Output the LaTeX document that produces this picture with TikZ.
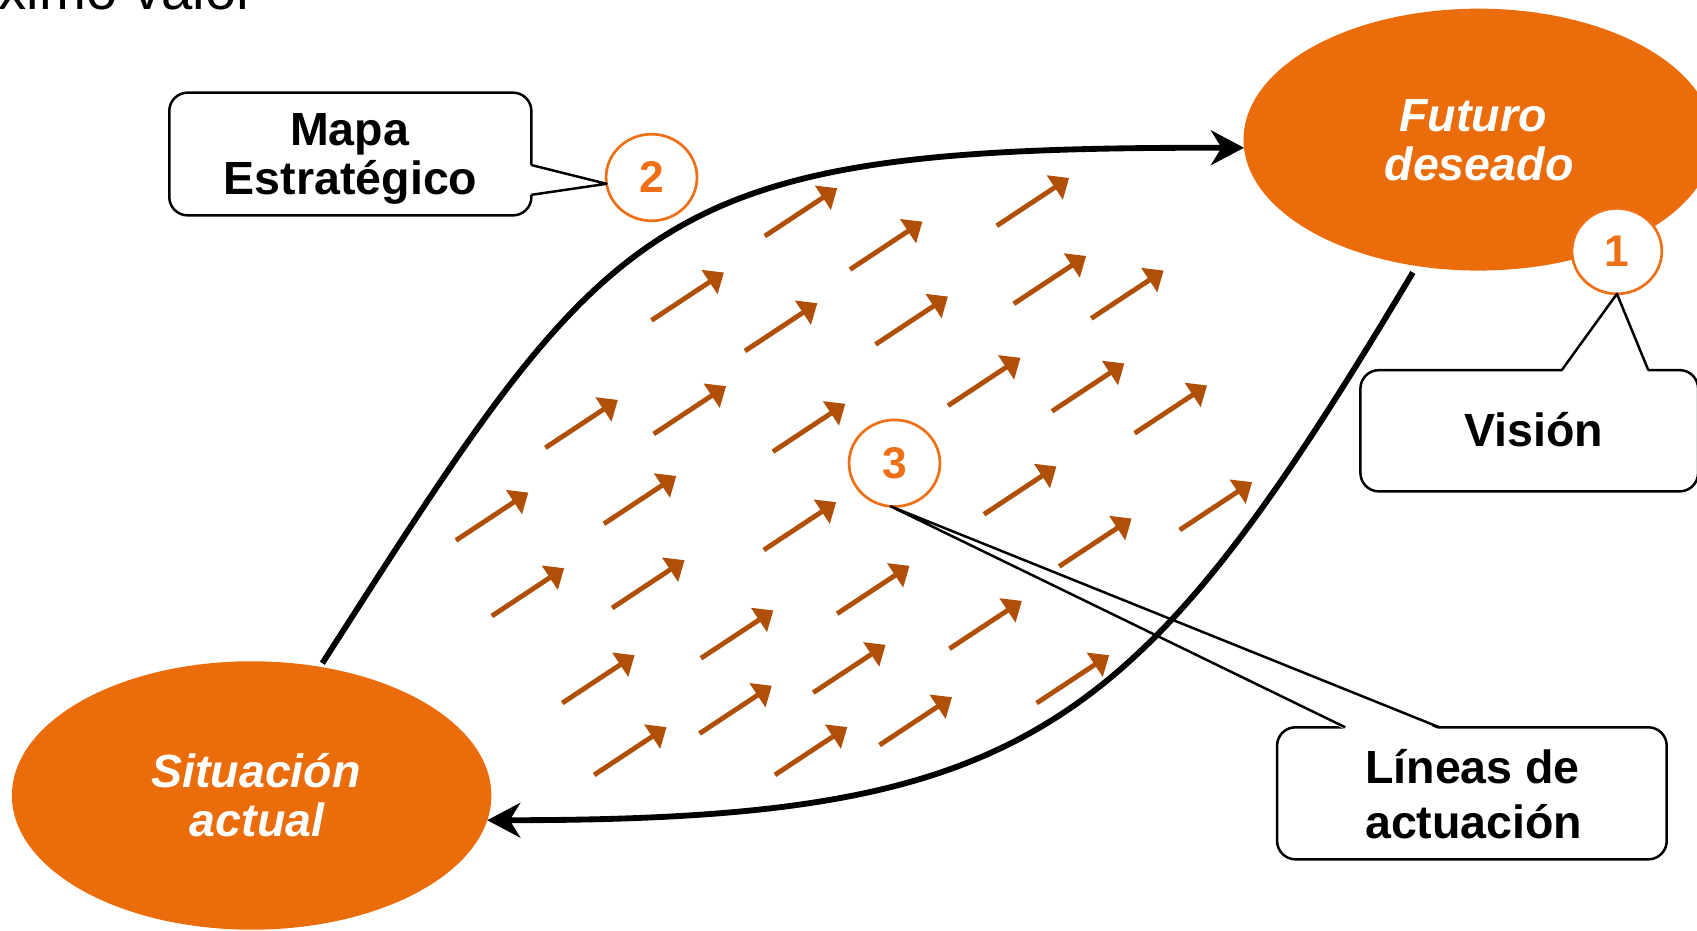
\documentclass[tikz,border=0pt]{standalone}
\usepackage{fontspec}
\setmainfont{Liberation Sans}
\usetikzlibrary{arrows.meta,shapes.geometric,calc}
\definecolor{ellor}{RGB}{235,108,11}
\definecolor{arrbr}{RGB}{176,80,8}
\definecolor{numor}{RGB}{238,112,22}
\tikzset{
  bigell/.style={ellipse, fill=ellor, draw=none, inner sep=0pt, outer sep=0pt},
  elltext/.style={text=white, font=\fontsize{43}{45}\selectfont\bfseries\itshape, inner sep=0pt, anchor=base},
  numcirc/.style={ellipse, draw=numor, line width=2.5pt, fill=white, minimum width=84pt, minimum height=80pt, inner sep=0pt, outer sep=0pt, text=numor, font=\fontsize{41}{41}\selectfont\bfseries},
  callbox/.style={rectangle, rounded corners=17pt, draw=black, line width=2.3pt, fill=white, inner sep=0pt, outer sep=0pt},
  boxtext/.style={font=\fontsize{43}{45}\selectfont\bfseries, inner sep=0pt, anchor=base},
  bigcurve/.style={line width=5.4pt, -{Stealth[length=30.5pt, width=32pt, inset=9.7pt]}},
  orarrow/.style={draw=arrbr, fill=arrbr, line width=4.5pt, -{Triangle[length=16pt, width=26pt]}},
  pointer/.style={line width=2.3pt, line join=round},
}
\begin{document}
\begin{tikzpicture}[x=1pt,y=-1pt]
\useasboundingbox (0,0) rectangle (1568,860);

% title fragment
\node[anchor=base east, inner sep=0pt, font=\fontsize{52}{52}\selectfont] (title) at (236,8.6) {ximo valor};

% big ellipses
\node[bigell, minimum width=434pt, minimum height=242pt] (fut) at (1366,129) {};
\node[elltext] (futa) at (1361,121.7) {Futuro};
\node[elltext] (futb) at (1366.6,167) {deseado};
\node[bigell, minimum width=443pt, minimum height=248pt] (sit) at (232.5,735) {};
\node[elltext] (sita) at (236.5,728) {Situación};
\node[elltext] (sitb) at (237.6,773) {actual};

% callout boxes
\node[callbox, minimum width=334.6pt, minimum height=113.4pt] (mapa) at (323.7,142.3) {};
\node[boxtext] (mapaa) at (323,134) {Mapa};
\node[boxtext] (mapab) at (324,180) {Estratégico};
\node[callbox, minimum width=312pt, minimum height=112pt] (vis) at (1413,398) {};
\node[boxtext] (visa) at (1417,412.7) {Visión};
\node[callbox, minimum width=360pt, minimum height=122pt] (lin) at (1360,733) {};
\node[boxtext] (lina) at (1360.6,723.6) {Líneas de};
\node[boxtext] (linb) at (1361.7,774.5) {actuación};

% number circles
\node[numcirc, minimum width=83pt, minimum height=79pt] (c1) at (1494,232) {1};
\node[numcirc] (c2) at (602,164) {2};
\node[numcirc] (c3) at (826.5,428) {3};

% pointer base points on the boxes
\coordinate (mp1) at (491,152.5);
\coordinate (mp2) at (491,180);
\coordinate (vp1) at (1443,342);
\coordinate (vp2) at (1523,342);
\coordinate (lp1) at (1243,672);
\coordinate (lp2) at (1330,672);

% pointers
\fill[white] ($(mp1)+(-2,0)$) -- (c2.188) -- ($(mp2)+(-2,0)$) -- cycle;
\draw[pointer] (mp1) -- (c2.188) -- (mp2);
\fill[white] ($(vp1)+(0,2)$) -- (c1.south) -- ($(vp2)+(0,2)$) -- cycle;
\draw[pointer] (vp1) -- (c1.south) -- (vp2);
\fill[white] ($(lp1)+(0,2)$) -- (c3.265) -- ($(lp2)+(0,2)$) -- cycle;
\draw[pointer] (lp1) -- (c3.265) -- (lp2);

% big curves
\draw[bigcurve, shorten <=4pt] (sit.62) .. controls (568,191.5) and (599.5,135.5) .. (fut.182);
\draw[bigcurve, shorten <=7pt] (fut.244) .. controls (1049,681) and (950,757.7) .. (sit.-6);

% field of small arrows
\foreach \ax/\ay in {706.7/218.1, 921/208.6, 785.4/249, 602/296, 688.3/324.3, 809/318.2,
  936.7/280.7, 1008.3/294.2, 504/413.7, 604/401, 714.2/417.3, 876/374.8, 972/380,
  1048.4/400.3, 421.3/499.3, 558/484, 705.7/508.2, 909.2/475.2, 1090/489.7,
  454.4/569.2, 565.6/561.8, 773.5/567, 978.7/523.3, 647.7/608.2, 877.3/599.4,
  519.5/649.6, 751.4/640, 957.9/649.6, 646.3/677.8, 812.7/688.4, 549/716, 716/716}
  \draw[orarrow] (\ax,\ay) -- ++(66.9,-44.2);
\end{tikzpicture}
\end{document}
